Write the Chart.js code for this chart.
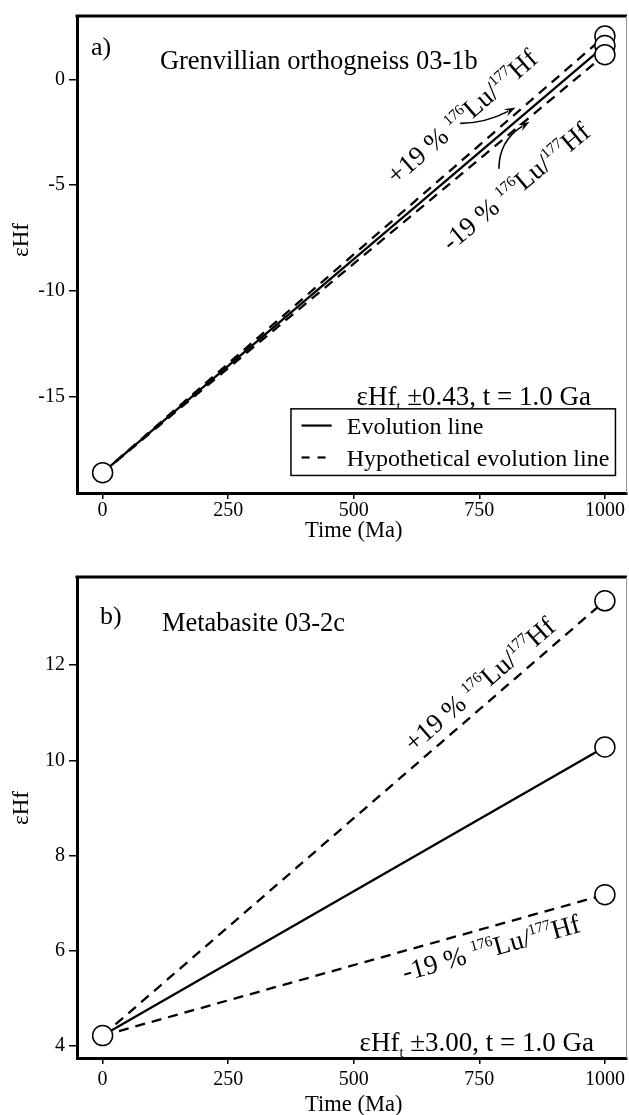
<!DOCTYPE html>
<html><head><meta charset="utf-8">
<script src="https://cdn.jsdelivr.net/npm/chart.js@4.4.1/dist/chart.umd.min.js"></script>
<style>
html,body{margin:0;padding:0;background:#fff;}
#wrap{position:relative;width:629px;height:1115px;overflow:hidden;background:#fff;}
#ca{position:absolute;left:0;top:0;}
#cb{position:absolute;left:0;top:557px;}
</style></head><body>
<div id="wrap"><canvas id="ca" width="650" height="557"></canvas><canvas id="cb" width="650" height="558"></canvas></div>
<script>
// ---- data ----
const timeMa = [0, 1000];
const xTickValues = [0, 250, 500, 750, 1000];
const aTickValues = [0, -5, -10, -15];
const bTickValues = [4, 6, 8, 10, 12];
const aEvolution = [-18.6, 1.6];
const aPlus19 = [-18.6, 2.05];
const aMinus19 = [-18.6, 1.17];
const bEvolution = [4.22, 10.28];
const bPlus19 = [4.22, 13.35];
const bMinus19 = [4.22, 7.18];

const FONT = '"Liberation Serif","Times New Roman",serif';
function fontStr(s){ return s.toFixed(2) + 'px ' + FONT; }
function px(chart, t, v){ return [chart.scales.x.getPixelForValue(t), chart.scales.y.getPixelForValue(v)]; }
function richWidth(ctx, parts, size){
  let w = 0;
  for (const p of parts){ ctx.font = fontStr(size*(p.s||1)); w += ctx.measureText(p.t).width; }
  return w;
}
function drawRich(ctx, parts, cx, cy, angle, size, align){
  ctx.save();
  ctx.translate(cx, cy); ctx.rotate(angle);
  const W = richWidth(ctx, parts, size);
  let x = align === 'left' ? 0 : -W/2;
  ctx.textBaseline = 'alphabetic'; ctx.textAlign = 'left'; ctx.fillStyle = '#000';
  const base = size*0.34;
  for (const p of parts){
    const s = size*(p.s||1);
    ctx.font = fontStr(s);
    ctx.fillText(p.t, x, base + (p.dy||0)*size);
    x += ctx.measureText(p.t).width;
  }
  ctx.restore();
}
function drawArrow(ctx, s, c, e){
  ctx.save();
  ctx.strokeStyle = '#000'; ctx.fillStyle = '#000'; ctx.lineWidth = 1.6;
  const ang = Math.atan2(e[1]-c[1], e[0]-c[0]);
  const L = 12, w = 0.33;
  const bx = e[0] - Math.cos(ang)*L*0.7, by = e[1] - Math.sin(ang)*L*0.7;
  ctx.beginPath(); ctx.moveTo(s[0], s[1]); ctx.quadraticCurveTo(c[0], c[1], bx, by); ctx.stroke();
  ctx.beginPath();
  ctx.moveTo(e[0], e[1]);
  ctx.lineTo(e[0] - L*Math.cos(ang - w), e[1] - L*Math.sin(ang - w));
  ctx.lineTo(e[0] - L*0.6*Math.cos(ang), e[1] - L*0.6*Math.sin(ang));
  ctx.lineTo(e[0] - L*Math.cos(ang + w), e[1] - L*Math.sin(ang + w));
  ctx.closePath(); ctx.fill();
  ctx.restore();
}
const sup = t => ({t: t, s: 0.56, dy: -0.4});
const plusLabel = [{t:'+19 % '}, sup('176'), {t:'Lu/'}, sup('177'), {t:'Hf'}];
const minusLabel = [{t:'-19 % '}, sup('176'), {t:'Lu/'}, sup('177'), {t:'Hf'}];

function makeChart(id, c){
  const ctx = document.getElementById(id).getContext('2d');
  const line = arr => timeMa.map((t, i) => ({x: t, y: arr[i]}));
  const circles = [
    {x: timeMa[0], y: c.evol[0]},
    {x: timeMa[1], y: c.plus[1]},
    {x: timeMa[1], y: c.evol[1]},
    {x: timeMa[1], y: c.minus[1]}
  ];
  const gridOpt = tl => ({drawOnChartArea:false, drawTicks:true, tickLength:tl, color:'#000', lineWidth:1.5});
  const borderOpt = {display:true, color:'#000', width:3};
  return new Chart(ctx, {
    type: 'scatter',
    data: {datasets: [
      {label:'Evolution line', data: line(c.evol), showLine:true, borderColor:'#000', borderWidth:2.3, pointRadius:0, order:2},
      {label:'+19 %', data: line(c.plus), showLine:true, borderColor:'#000', borderWidth:2.3, borderDash:[10,7], pointRadius:0, order:3},
      {label:'-19 %', data: line(c.minus), showLine:true, borderColor:'#000', borderWidth:2.3, borderDash:[10,7], pointRadius:0, order:3},
      {label:'points', data: circles, pointRadius:10, pointBackgroundColor:'#fff', pointBorderColor:'#000', pointBorderWidth:1.5, showLine:false, order:0, clip:false}
    ]},
    options: {
      responsive:false, animation:false, devicePixelRatio:1, events:[],
      layout:{padding:{top:c.padTop, right:23, left:0, bottom:0}},
      plugins:{legend:{display:false}, tooltip:{enabled:false}, title:{display:false}},
      scales:{
        x:{type:'linear', min:-51, max:1044,
          afterBuildTicks: s => { s.ticks = xTickValues.map(v => ({value:v})); },
          afterFit: s => { s.height = c.xAxisH; },
          grid: gridOpt(6), border: borderOpt,
          ticks:{color:'#000', font:{family:FONT, size:20}, padding:c.xTickPad, maxRotation:0, autoSkip:false,
                 callback: v => String(v)}
        },
        y:{type:'linear', min:c.yMin, max:c.yMax,
          afterBuildTicks: s => { s.ticks = c.yTicks.map(v => ({value:v})); },
          afterFit: s => { s.width = 77; },
          grid: gridOpt(8), border: borderOpt,
          ticks:{color:'#000', font:{family:FONT, size:20}, padding:4, autoSkip:false, callback: v => String(v)}
        }
      }
    },
    plugins: [{id:'deco', afterDraw(chart){
      const a = chart.chartArea, g = chart.ctx;
      g.save();
      g.strokeStyle = '#000'; g.lineWidth = 3;
      g.beginPath(); g.moveTo(a.left-1.5, a.top); g.lineTo(a.right, a.top); g.stroke();
      g.strokeStyle = '#999'; g.lineWidth = 1;
      g.beginPath(); g.moveTo(a.right-0.5, a.top); g.lineTo(a.right-0.5, a.bottom); g.stroke();
      g.restore();
      let p = px(chart, c.letterPos[0], c.letterPos[1]);
      drawRich(g, [{t:c.letter}], p[0], p[1], 0, 26, 'left');
      p = px(chart, c.titlePos[0], c.titlePos[1]);
      drawRich(g, [{t:c.title}], p[0], p[1], 0, 26.5, 'left');
      p = px(chart, c.notePos[0], c.notePos[1]);
      drawRich(g, [{t:'εHf'}, {t:'t', s:0.55, dy:0.22}, {t:c.noteText}], p[0], p[1], 0, 27, 'center');
      // annotations along lines
      const p0 = px(chart, timeMa[0], c.plus[0]), p1 = px(chart, timeMa[1], c.plus[1]);
      const angP = Math.atan2(p1[1]-p0[1], p1[0]-p0[0]);
      const m0 = px(chart, timeMa[0], c.minus[0]), m1 = px(chart, timeMa[1], c.minus[1]);
      const angM = Math.atan2(m1[1]-m0[1], m1[0]-m0[0]);
      p = px(chart, c.plusPos[0], c.plusPos[1]);
      drawRich(g, plusLabel, p[0], p[1], angP, 27, 'center');
      p = px(chart, c.minusPos[0], c.minusPos[1]);
      drawRich(g, minusLabel, p[0], p[1], angM, 27, 'center');
      if (c.arrows) for (const ar of c.arrows){
        drawArrow(g, px(chart, ar[0][0], ar[0][1]), px(chart, ar[1][0], ar[1][1]), px(chart, ar[2][0], ar[2][1]));
      }
      if (c.legend){
        const L = c.legend;
        const tl = px(chart, L.box[0], L.box[1]), br = px(chart, L.box[2], L.box[3]);
        g.save();
        g.fillStyle = '#fff'; g.fillRect(tl[0], tl[1], br[0]-tl[0], br[1]-tl[1]);
        g.strokeStyle = '#000'; g.lineWidth = 1.5; g.strokeRect(tl[0], tl[1], br[0]-tl[0], br[1]-tl[1]);
        const r1 = px(chart, L.sx[0], L.rows[0]), r1e = px(chart, L.sx[1], L.rows[0]);
        const r2 = px(chart, L.sx[0], L.rows[1]), r2e = px(chart, L.sx[1], L.rows[1]);
        g.lineWidth = 2.2;
        g.beginPath(); g.moveTo(r1[0], r1[1]); g.lineTo(r1e[0], r1e[1]); g.stroke();
        g.setLineDash([8, 8]);
        g.beginPath(); g.moveTo(r2[0], r2[1]); g.lineTo(r2e[0], r2e[1]); g.stroke();
        g.restore();
        const tx = px(chart, L.tx, L.rows[0])[0];
        drawRich(g, [{t:'Evolution line'}], tx, r1[1], 0, 24, 'left');
        drawRich(g, [{t:'Hypothetical evolution line'}], tx, r2[1], 0, 24, 'left');
      }
      // axis titles
      drawRich(g, [{t:'εHf'}], 20, c.yTitleY, -Math.PI/2, 23, 'center');
      drawRich(g, [{t:'Time (Ma)'}], chart.scales.x.getPixelForValue(500), c.xTitleY, 0, 22.5, 'center');
    }}]
  });
}

makeChart('ca', {
  evol: aEvolution, plus: aPlus19, minus: aMinus19,
  yMin: -19.56, yMax: 3.0, yTicks: aTickValues,
  padTop: 13, xAxisH: 64, xTickPad: 0,
  letter: 'a)', letterPos: [-23, 1.58],
  title: 'Grenvillian orthogneiss 03-1b', titlePos: [114, 0.93],
  noteText: ' ±0.43, t = 1.0 Ga', notePos: [739, -14.96],
  plusPos: [715, -1.75], minusPos: [822, -5.05],
  arrows: [
    [[712, -2.08], [761, -2.08], [822, -1.33]],
    [[789, -4.23], [789, -2.91], [850, -2.0]]
  ],
  legend: {box: [375, -15.58, 1021, -18.73], rows: [-16.37, -17.88], sx: [396, 456], tx: 486},
  yTitleY: 240, xTitleY: 529
});
makeChart('cb', {
  evol: bEvolution, plus: bPlus19, minus: bMinus19,
  yMin: 3.75, yMax: 13.85, yTicks: bTickValues,
  padTop: 20, xAxisH: 57, xTickPad: 4,
  letter: 'b)', letterPos: [-5, 13.05],
  title: 'Metabasite 03-2c', titlePos: [118, 12.9],
  noteText: ' ±3.00, t = 1.0 Ga', notePos: [745, 4.08],
  plusPos: [750, 11.6], minusPos: [773, 6.07],
  arrows: null, legend: null,
  yTitleY: 251, xTitleY: 546
});
</script>
</body></html>
